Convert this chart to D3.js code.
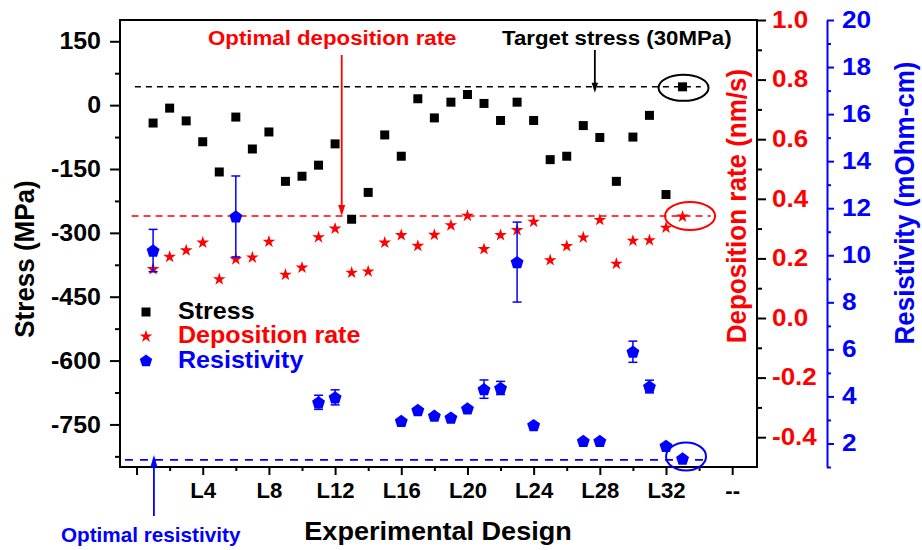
<!DOCTYPE html>
<html><head><meta charset="utf-8">
<script src="https://cdn.jsdelivr.net/npm/d3@7"></script>
<style>
body{margin:0;background:#fff}
svg text{font-family:"Liberation Sans",Arial,sans-serif;font-weight:bold}
</style>
</head><body>
<svg id="chart" width="922" height="550"></svg>
<script>
// ---------------- data ----------------
const designs = d3.range(1, 34); // L1 .. L33
const stress = [-42, -7, -37, -86, -157, -28, -103, -63, -179, -167, -141, -91, -268, -205, -70, -120,
  15, -30, 7, 25, 4, -36, 7, -36, -128, -120, -48, -76, -179, -75, -24, -210, 43];
const depositionRate = [0.166, 0.207, 0.229, 0.255, 0.132, 0.199, 0.205, 0.258, 0.147, 0.171, 0.273,
  0.302, 0.154, 0.158, 0.255, 0.280, 0.244, 0.281, 0.313, 0.345, 0.233, 0.280, 0.297, 0.325, 0.196,
  0.243, 0.272, 0.331, 0.184, 0.261, 0.263, 0.305, 0.342];
const resDesigns = [1, 6, 11, 12, 16, 17, 18, 19, 20, 21, 22, 23, 24, 27, 28, 30, 31, 32, 33];
const resistivity = [10.20, 11.65, 3.75, 3.96, 2.96, 3.42, 3.18, 3.10, 3.49, 4.31, 4.36, 9.71, 2.78,
  2.11, 2.11, 5.90, 4.42, 1.90, 1.36];
const resError = [0.9, 1.72, 0.3, 0.32, 0, 0, 0, 0, 0, 0.39, 0.28, 1.7, 0, 0, 0, 0.45, 0.27, 0, 0];
const xTickValues = [0, 4, 8, 12, 16, 20, 24, 28, 32, 36];
const xTickLabels = ["", "L4", "L8", "L12", "L16", "L20", "L24", "L28", "L32", "--"];
const xMinorTicks = [2, 6, 10, 14, 18, 22, 26, 30, 34];
const stressTicks = [150, 0, -150, -300, -450, -600, -750];
const stressMinor = [75, -75, -225, -375, -525, -675, -825];
const rateTicks = [1.0, 0.8, 0.6, 0.4, 0.2, 0.0, -0.2, -0.4];
const rateMinor = [0.9, 0.7, 0.5, 0.3, 0.1, -0.1, -0.3];
const resTicks = [20, 18, 16, 14, 12, 10, 8, 6, 4, 2];
const resMinor = [19, 17, 15, 13, 11, 9, 7, 5, 3, 1];
const targetStress = 43, optimalRate = 0.342, optimalRes = 1.3;
const bestDesign = 33;

// ---------------- layout ----------------
const RED = "#ff0000", BLUE = "#0000ff", BLACK = "#000000";
const FONT = '"Liberation Sans", Arial, sans-serif';
const L = 120, R = 757, T = 20, B = 467, RES_X = 827;
const svg = d3.select("#chart");
const x = d3.scaleLinear([-1, 37.5], [L, R]);
const yS = d3.scaleLinear([-850, 200], [B, T]);
const yR = d3.scaleLinear([-0.5, 1.0], [B, T]);
const yP = d3.scaleLinear([1, 20], [B, T]);

// horizontal stretch of text (the source figure's lettering is slightly wide)
function stretch(sel, s) {
  sel.each(function () {
    const t = d3.select(this);
    const xx = +t.attr("x") || 0, yy = +t.attr("y") || 0;
    t.attr("x", 0).attr("y", 0).attr("transform", `translate(${xx},${yy}) scale(${s},1)`);
  });
}

function styleAxis(g, color, size, s) {
  g.select(".domain").remove();
  g.selectAll(".tick line").attr("stroke", BLACK).attr("stroke-width", 2);
  g.selectAll(".tick text").attr("fill", color).attr("font-size", size)
    .attr("font-family", FONT).attr("font-weight", "bold").call(t => stretch(t, s || 1));
}

// left axis
svg.append("g").attr("transform", `translate(${L},0)`)
  .call(d3.axisLeft(yS).tickValues(stressTicks).tickSize(10).tickPadding(9).tickFormat(d => String(d)))
  .call(g => styleAxis(g, BLACK, 24, 1.04));
svg.append("g").attr("transform", `translate(${L},0)`)
  .call(d3.axisLeft(yS).tickValues(stressMinor).tickSize(5).tickFormat(""))
  .call(g => styleAxis(g, BLACK, 24));

// bottom axis
svg.append("g").attr("transform", `translate(0,${B})`)
  .call(d3.axisBottom(x).tickValues(xTickValues).tickSize(8).tickPadding(8).tickFormat((d, i) => xTickLabels[i]))
  .call(g => styleAxis(g, BLACK, 21.5, 1.03));
svg.append("g").attr("transform", `translate(0,${B})`)
  .call(d3.axisBottom(x).tickValues(xMinorTicks).tickSize(4).tickFormat(""))
  .call(g => styleAxis(g, BLACK, 22));

// right (deposition rate) axis on frame
svg.append("g").attr("transform", `translate(${R},0)`)
  .call(d3.axisRight(yR).tickValues(rateTicks).tickSize(9).tickPadding(6).tickFormat(d => d.toFixed(1)))
  .call(g => styleAxis(g, RED, 23, 1.13));
svg.append("g").attr("transform", `translate(${R},0)`)
  .call(d3.axisRight(yR).tickValues(rateMinor).tickSize(5).tickFormat(""))
  .call(g => styleAxis(g, RED, 23));

// resistivity axis
svg.append("g").attr("transform", `translate(${RES_X},0)`)
  .call(d3.axisRight(yP).tickValues(resTicks).tickSize(7).tickPadding(8).tickSizeOuter(0).tickFormat(d => String(d)))
  .call(g => {
    g.select(".domain").attr("stroke", BLUE).attr("stroke-width", 2);
    g.selectAll(".tick line").attr("stroke", BLUE).attr("stroke-width", 2);
    g.selectAll(".tick text").attr("fill", BLUE).attr("font-size", 23)
      .attr("font-family", FONT).attr("font-weight", "bold").call(t => stretch(t, 1.14));
  });
svg.append("g").attr("transform", `translate(${RES_X},0)`)
  .call(d3.axisRight(yP).tickValues(resMinor).tickSize(4).tickFormat(""))
  .call(g => { g.select(".domain").remove(); g.selectAll(".tick line").attr("stroke", BLUE).attr("stroke-width", 2); });

// frame
svg.append("rect").attr("x", L).attr("y", T).attr("width", R - L).attr("height", B - T)
  .attr("fill", "none").attr("stroke", BLACK).attr("stroke-width", 2);

// axis titles
svg.append("text").attr("transform", "translate(34,259) rotate(-90) scale(1,1.08)").attr("text-anchor", "middle")
  .attr("font-size", 26).attr("fill", BLACK).text("Stress (MPa)");
svg.append("text").attr("transform", "translate(746,206) rotate(-90) scale(1,1.08)").attr("text-anchor", "middle")
  .attr("font-size", 26).attr("fill", RED).text("Deposition rate (nm/s)");
svg.append("text").attr("transform", "translate(914,203) rotate(-90) scale(1,1.08)").attr("text-anchor", "middle")
  .attr("font-size", 26).attr("fill", BLUE).text("Resistivity (mOhm-cm)");
svg.append("text").attr("x", 438).attr("y", 540).attr("text-anchor", "middle")
  .attr("font-size", 26).attr("fill", BLACK).text("Experimental Design").call(t => stretch(t, 1.04));

// reference dashed lines
svg.append("line").attr("x1", x(-0.1)).attr("x2", x(34.1)).attr("y1", yS(targetStress)).attr("y2", yS(targetStress))
  .attr("stroke", BLACK).attr("stroke-width", 1.5).attr("stroke-dasharray", "6,5");
svg.append("line").attr("x1", x(-0.3)).attr("x2", x(34.7)).attr("y1", yR(optimalRate)).attr("y2", yR(optimalRate))
  .attr("stroke", RED).attr("stroke-width", 1.5).attr("stroke-dasharray", "7,5");
svg.append("line").attr("x1", x(-0.7)).attr("x2", x(34.5)).attr("y1", yP(optimalRes)).attr("y2", yP(optimalRes))
  .attr("stroke", BLUE).attr("stroke-width", 1.8).attr("stroke-dasharray", "8,7");

// markers
const star = d3.symbol().type(d3.symbolStar).size(50);
const square = d3.symbol().type(d3.symbolSquare).size(81);
function pentagon(r) {
  const pts = d3.range(5).map(k => {
    const a = -Math.PI / 2 + k * 2 * Math.PI / 5;
    return [r * Math.cos(a), r * Math.sin(a)];
  });
  return "M" + pts.map(p => p.join(",")).join("L") + "Z";
}

svg.append("g").selectAll("path").data(designs).join("path")
  .attr("transform", (d, i) => `translate(${x(d)},${yS(stress[i])})`)
  .attr("d", square()).attr("fill", BLACK);

svg.append("g").selectAll("path").data(designs).join("path")
  .attr("transform", (d, i) => `translate(${x(d)},${yR(depositionRate[i]) + 0.6})`)
  .attr("d", star()).attr("fill", RED);

// resistivity error bars
const eb = svg.append("g").attr("stroke", BLUE).attr("stroke-width", 1.5);
resDesigns.forEach((d, i) => {
  if (!resError[i]) return;
  const cx = x(d), y1 = yP(resistivity[i] + resError[i]), y2 = yP(resistivity[i] - resError[i]);
  eb.append("line").attr("x1", cx).attr("x2", cx).attr("y1", y1).attr("y2", y2);
  eb.append("line").attr("x1", cx - 4.5).attr("x2", cx + 4.5).attr("y1", y1).attr("y2", y1);
  eb.append("line").attr("x1", cx - 4.5).attr("x2", cx + 4.5).attr("y1", y2).attr("y2", y2);
});
svg.append("g").selectAll("path").data(resDesigns).join("path")
  .attr("transform", (d, i) => `translate(${x(d)},${yP(resistivity[i]) + 0.6})`)
  .attr("d", pentagon(6.8)).attr("fill", BLUE);

// ellipses around the optimal design
svg.append("ellipse").attr("cx", x(bestDesign) + 1).attr("cy", yS(stress[bestDesign - 1]) + 1)
  .attr("rx", 25).attr("ry", 13).attr("fill", "none").attr("stroke", BLACK).attr("stroke-width", 2);
svg.append("ellipse").attr("cx", x(bestDesign) + 7.5).attr("cy", yR(depositionRate[bestDesign - 1]))
  .attr("rx", 25).attr("ry", 14).attr("fill", "none").attr("stroke", RED).attr("stroke-width", 2);
svg.append("ellipse").attr("cx", x(bestDesign) + 3.5).attr("cy", yP(resistivity[resDesigns.length - 1]) - 2)
  .attr("rx", 20).attr("ry", 14).attr("fill", "none").attr("stroke", BLUE).attr("stroke-width", 2);

// arrows
function arrow(xp, yFrom, yTo, color, w, len) {
  const dir = yTo > yFrom ? 1 : -1;
  svg.append("line").attr("x1", xp).attr("x2", xp).attr("y1", yFrom).attr("y2", yTo - dir * len * 0.6)
    .attr("stroke", color).attr("stroke-width", 1.8);
  svg.append("path").attr("d", `M${xp - w},${yTo - dir * len}L${xp + w},${yTo - dir * len}L${xp},${yTo}Z`).attr("fill", color);
}
arrow(x(12.4), 55, yR(optimalRate), RED, 3.5, 11);
arrow(x(27.7), 50, yS(targetStress) + 6, BLACK, 3.2, 10);
arrow(x(1.05), 516, yP(optimalRes) - 5, BLUE, 3.5, 12);

// annotation texts
svg.append("text").attr("x", 208).attr("y", 45).attr("font-size", 21).attr("fill", RED)
  .text("Optimal deposition rate").call(t => stretch(t, 1.06));
svg.append("text").attr("x", 502).attr("y", 45).attr("font-size", 21).attr("fill", BLACK)
  .text("Target stress (30MPa)").call(t => stretch(t, 1.06));
svg.append("text").attr("x", 61).attr("y", 542).attr("font-size", 20).attr("fill", BLUE)
  .text("Optimal resistivity").call(t => stretch(t, 1.035));

// legend
const legendItems = [
  {label: "Stress", color: BLACK, sym: "square"},
  {label: "Deposition rate", color: RED, sym: "star"},
  {label: "Resistivity", color: BLUE, sym: "pent"}
];
const lg = svg.append("g");
legendItems.forEach((it, i) => {
  const cy = 312 + i * 24.5;
  const p = lg.append("path").attr("transform", `translate(146,${cy})`).attr("fill", it.color);
  if (it.sym === "square") p.attr("d", square());
  else if (it.sym === "star") p.attr("d", star());
  else p.attr("d", pentagon(6.5));
  lg.append("text").attr("x", 178).attr("y", cy + 6.5).attr("font-size", 23).attr("fill", it.color)
    .text(it.label).call(t => stretch(t, 1.09));
});
</script>
</body></html>
